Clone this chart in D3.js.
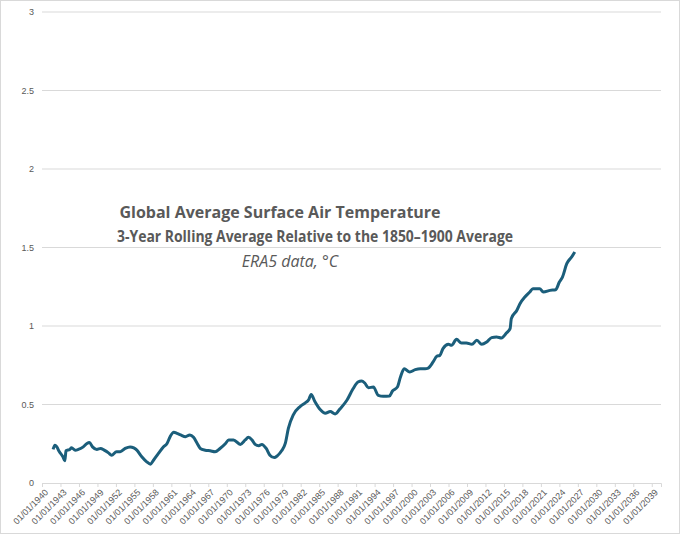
<!DOCTYPE html>
<meta charset="utf-8">
<style>
body { margin: 0; font-family: "Open Sans", Arial, sans-serif; }
.axis text { fill: #595959; font-size: 9px; }
.axis path, .axis line { stroke: #d9d9d9; }
</style>
<body>
<script src="https://cdn.jsdelivr.net/npm/d3@7"></script>
<script>
// decimal year of each point
var years = [1941.8,1942.1,1942.4,1942.8,1943.4,1943.7,1943.9,1944.5,1944.8,1945.4,1945.9,1946.7,1947.3,1947.7,1948.2,1948.9,1949.5,1950.1,1950.8,1951.3,1952.1,1952.7,1953.5,1954.3,1954.9,1955.4,1956.2,1957.0,1957.6,1958.1,1958.9,1959.7,1960.3,1960.8,1961.4,1961.9,1962.5,1963.3,1964.0,1964.6,1965.2,1965.7,1966.5,1967.3,1968.1,1968.9,1969.8,1970.3,1971.1,1972.2,1973.0,1973.5,1974.1,1974.6,1975.2,1975.7,1976.4,1977.0,1977.7,1978.2,1978.9,1979.5,1980.0,1980.8,1981.9,1982.7,1983.3,1983.7,1984.3,1985.2,1986.0,1986.8,1987.6,1988.4,1989.5,1990.5,1991.3,1991.9,1992.4,1993.0,1993.8,1994.6,1995.4,1996.4,1996.9,1997.7,1998.2,1998.8,1999.7,2000.6,2001.4,2002.2,2002.7,2003.5,2004.1,2004.6,2005.1,2006.0,2006.5,2007.3,2008.1,2008.9,2009.8,2010.6,2011.4,2012.2,2013.0,2013.8,2014.6,2015.4,2016.0,2016.2,2017.1,2017.6,2018.4,2019.2,2019.7,2020.8,2021.4,2022.5,2023.4,2024.0,2024.5,2025.2,2026.0,2026.5];
var anomaly = [0.214,0.241,0.23,0.2,0.167,0.141,0.205,0.214,0.224,0.209,0.214,0.23,0.252,0.258,0.23,0.214,0.22,0.209,0.192,0.177,0.199,0.199,0.22,0.23,0.224,0.209,0.167,0.135,0.12,0.145,0.188,0.23,0.252,0.295,0.323,0.316,0.306,0.295,0.306,0.291,0.252,0.22,0.209,0.205,0.199,0.22,0.252,0.274,0.274,0.246,0.274,0.291,0.274,0.246,0.237,0.246,0.22,0.177,0.162,0.173,0.205,0.252,0.348,0.434,0.487,0.509,0.53,0.564,0.519,0.466,0.444,0.455,0.44,0.473,0.527,0.60,0.643,0.65,0.637,0.607,0.611,0.558,0.552,0.554,0.586,0.611,0.675,0.728,0.707,0.722,0.728,0.728,0.732,0.771,0.807,0.813,0.856,0.883,0.877,0.915,0.892,0.892,0.883,0.909,0.883,0.898,0.926,0.93,0.924,0.955,0.983,1.047,1.10,1.142,1.185,1.217,1.238,1.238,1.217,1.227,1.231,1.28,1.312,1.397,1.44,1.471];
var yTicks = [0, 0.5, 1, 1.5, 2, 2.5, 3];
var tickYears = d3.range(1940, 2040, 3);

var W = 680, H = 534;
var margin = {top: 12, right: 19, bottom: 51, left: 42};

function toDate(y) {
  var yr = Math.floor(y);
  var start = new Date(yr, 0, 1), end = new Date(yr + 1, 0, 1);
  return new Date(+start + (y - yr) * (end - start));
}

var svg = d3.select('body').append('svg')
  .attr('width', W).attr('height', H);

svg.append('rect')
  .attr('x', 0.5).attr('y', 0.5).attr('width', W - 1).attr('height', H - 1)
  .attr('fill', '#fff').attr('stroke', '#d9d9d9');

var x = d3.scaleTime()
  .domain([new Date(1940, 0, 1), toDate(2040.5)])
  .range([margin.left, W - margin.right]);
var y = d3.scaleLinear()
  .domain([0, 3])
  .range([H - margin.bottom, margin.top]);

// gridlines
svg.append('g').selectAll('line')
  .data(yTicks.slice(1)).enter().append('line')
  .attr('x1', margin.left).attr('x2', W - margin.right)
  .attr('y1', function(d) { return y(d); })
  .attr('y2', function(d) { return y(d); })
  .attr('stroke', '#d9d9d9').attr('stroke-width', 1);

var yAxis = svg.append('g').attr('class', 'axis')
  .attr('transform', 'translate(' + margin.left + ',0)')
  .call(d3.axisLeft(y).tickValues(yTicks).tickSize(0).tickPadding(8)
    .tickFormat(function(d) { return d; }));
yAxis.select('.domain').remove();

var xAxis = svg.append('g').attr('class', 'axis')
  .attr('transform', 'translate(0,' + y(0) + ')')
  .call(d3.axisBottom(x)
    .tickValues(tickYears.map(function(t) { return new Date(t, 0, 1); }))
    .tickSize(4)
    .tickFormat(d3.timeFormat('%d/%m/%Y')));
xAxis.selectAll('text')
  .attr('text-anchor', 'end')
  .attr('dx', '-0.3em').attr('dy', '0.5em')
  .attr('transform', 'rotate(-45)');

var line = d3.line()
  .x(function(d, i) { return x(toDate(years[i])); })
  .y(function(d) { return y(d); })
  .curve(d3.curveMonotoneX);

svg.append('path')
  .datum(anomaly)
  .attr('d', line)
  .attr('fill', 'none')
  .attr('stroke', '#1b5e7b')
  .attr('stroke-width', 3)
  .attr('stroke-linejoin', 'round');

// title
var title = svg.append('text')
  .attr('text-anchor', 'middle')
  .attr('fill', '#595959');
title.append('tspan').attr('x', 280).attr('y', 218)
  .attr('font-weight', 'bold').attr('font-size', '16px')
  .text('Global Average Surface Air Temperature');
title.append('tspan').attr('x', 315).attr('y', 242)
  .attr('font-weight', 'bold').attr('font-size', '16px')
  .attr('textLength', 396).attr('lengthAdjust', 'spacingAndGlyphs')
  .text('3-Year Rolling Average Relative to the 1850\u20131900 Average');
title.append('tspan').attr('x', 290).attr('y', 267)
  .attr('font-style', 'italic').attr('font-size', '16px')
  .text('ERA5 data, \u00b0C');
</script>
</body>
